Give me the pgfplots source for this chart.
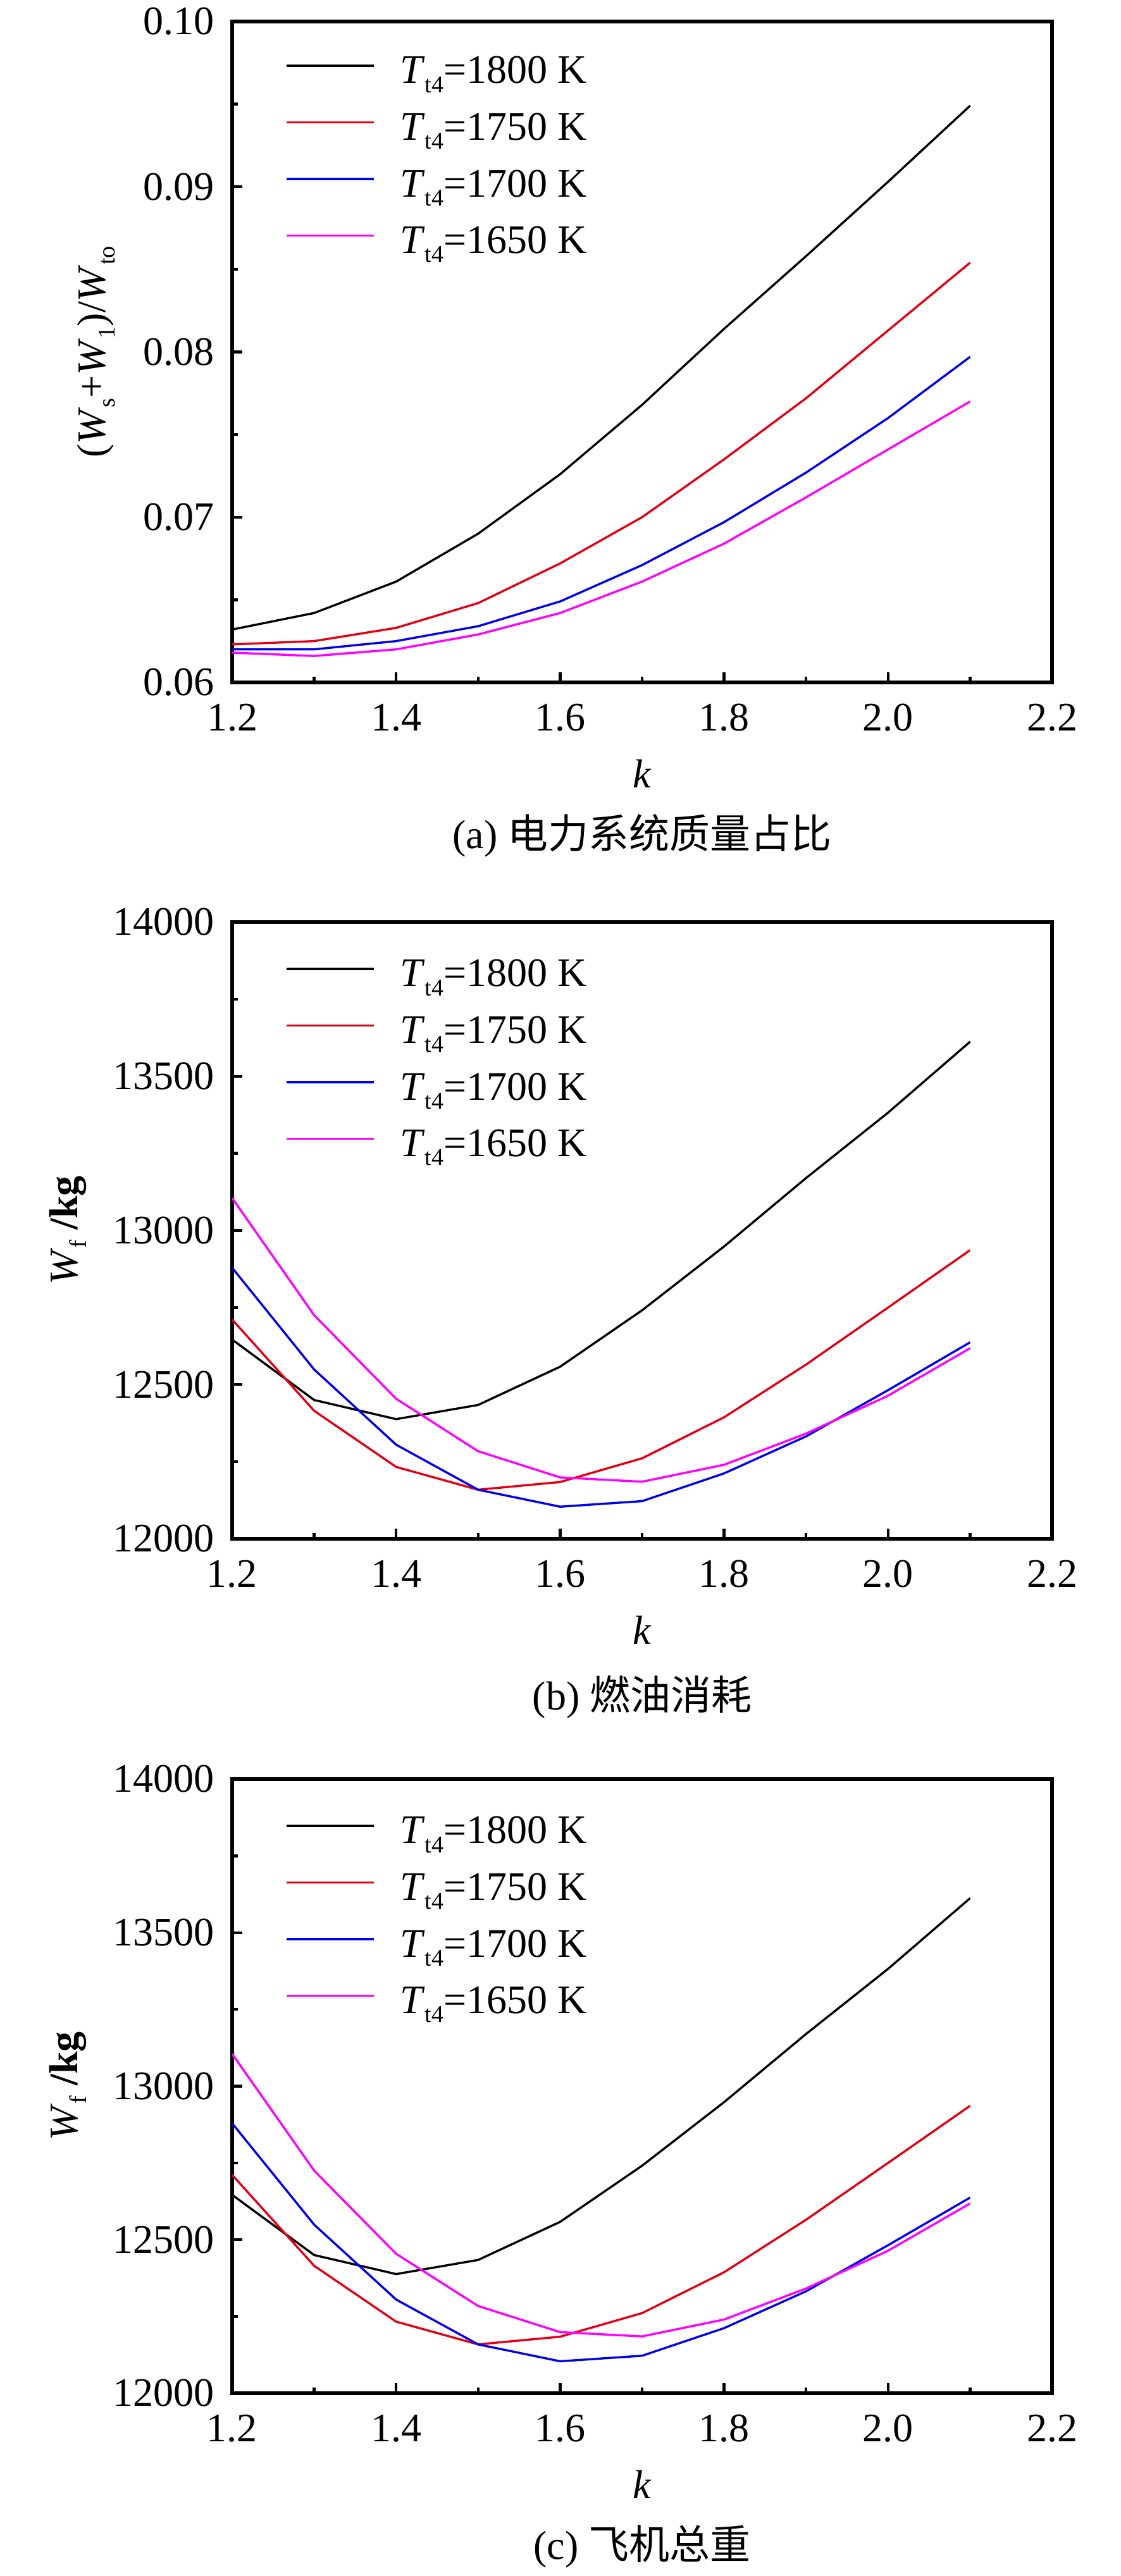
\documentclass[border=0pt]{standalone}
\usepackage{fontspec}
\setmainfont{Liberation Serif}
\newfontfamily\cjk{Noto Sans CJK SC}
\usepackage{pgfplots}
\pgfplotsset{compat=1.18}
\definecolor{myred}{RGB}{228,0,18}
\definecolor{myblue}{RGB}{0,0,235}
\definecolor{mymag}{RGB}{255,0,255}
\newcommand{\sub}[1]{\raisebox{-0.22em}{\fontsize{9.5pt}{10pt}\selectfont #1}}
\newcommand{\leg}[1]{\textit{T}\sub{t4}=#1 K}
\pgfplotsset{
  myaxis/.style={
    scale only axis, width=324pt,
    xmin=1.2, xmax=2.2, xtick={1.2,1.4,...,2.2}, minor x tick num=1,
    minor y tick num=1,
    tick align=inside, xtick pos=left, ytick pos=left,
    major tick length=4pt, minor tick length=2.3pt,
    tick style={black, line width=1.1pt},
    axis line style={line width=1.4pt},
    /pgf/number format/assume math mode=true,
    scaled ticks=false,
    tick label style={font=\fontsize{16}{19}\selectfont, inner sep=0pt},
    xticklabel style={anchor=north, yshift=-8.25pt, /pgf/number format/.cd, fixed, fixed zerofill, precision=1},
    xlabel={\textit{k}},
    xlabel style={at={(axis description cs:0.5,0)}, anchor=center, yshift=-36pt, font=\fontsize{16}{19}\selectfont, inner sep=0pt},
    ylabel style={anchor=center, font=\fontsize{16}{19}\selectfont, inner sep=0pt},
    legend cell align=left,
    legend image code/.code={\draw[##1] (0pt,0pt) -- (34.5pt,0pt);},
    legend style={at={(axis description cs:0,1)}, anchor=north west, xshift=21pt, yshift=-7.5pt,
      draw=none, fill=none, inner sep=0pt, outer sep=0pt, row sep=2.4pt, column sep=10pt,
      font=\fontsize{16}{19}\selectfont,
      nodes={inner sep=0pt, text height=17pt, text depth=3pt}},
  },
  pl/.style={line width=0.85pt},
}
\begin{document}
\begin{tikzpicture}
\path[use as bounding box] (0,0) rectangle (443pt,1018.25pt);
% ---------------- (a)
\begin{axis}[myaxis, name=a, at={(91.75pt,748.5pt)}, anchor=south west, height=261.25pt,
  ymin=0.06, ymax=0.10, ytick={0.06,0.07,0.08,0.09,0.10},
  yticklabel style={anchor=east, xshift=-7pt, /pgf/number format/.cd, fixed, fixed zerofill, precision=2},
  ylabel={(\textit{W}\sub{s}+\textit{W}\sub{1})/\textit{W}\sub{to}},
  ylabel style={at={([xshift=-53.75pt]axis description cs:0,0.5)}},
  ]
\addplot[pl, black] coordinates {(1.2,0.0632)(1.3,0.0642)(1.4,0.0661)(1.5,0.0690)(1.6,0.0726)(1.7,0.0768)(1.8,0.0814)(1.9,0.0858)(2.0,0.0903)(2.1,0.0949)};
\addplot[pl, myred] coordinates {(1.2,0.0623)(1.3,0.0625)(1.4,0.0633)(1.5,0.0648)(1.6,0.0672)(1.7,0.0700)(1.8,0.0735)(1.9,0.0772)(2.0,0.0813)(2.1,0.0854)};
\addplot[pl, myblue] coordinates {(1.2,0.0620)(1.3,0.0620)(1.4,0.0625)(1.5,0.0634)(1.6,0.0649)(1.7,0.0671)(1.8,0.0697)(1.9,0.0727)(2.0,0.0760)(2.1,0.0797)};
\addplot[pl, mymag] coordinates {(1.2,0.0618)(1.3,0.0616)(1.4,0.0620)(1.5,0.0629)(1.6,0.0642)(1.7,0.0661)(1.8,0.0684)(1.9,0.0712)(2.0,0.0741)(2.1,0.0770)};
\legend{\leg{1800},\leg{1750},\leg{1700},\leg{1650}}
\end{axis}
\node[inner sep=0pt, font=\fontsize{16}{19}\selectfont] at ([yshift=-60.5pt]a.south) {(a) {\cjk 电力系统质量占比}};
% ---------------- (b)
\begin{axis}[myaxis, name=b, at={(91.75pt,410pt)}, anchor=south west, height=243.75pt,
  ymin=12000, ymax=14000, ytick={12000,12500,13000,13500,14000},
  yticklabel style={anchor=east, xshift=-7pt, /pgf/number format/.cd, fixed, 1000 sep={}},
  ylabel={\textit{W}\sub{f}\ \textbf{/kg}},
  ylabel style={at={([xshift=-65pt]axis description cs:0,0.5)}},
  legend style={yshift=-1pt},
  ]
\addplot[pl, black] coordinates {(1.2,12646)(1.3,12450)(1.4,12388)(1.5,12434)(1.6,12558)(1.7,12741)(1.8,12948)(1.9,13170)(2.0,13382)(2.1,13612)};
\addplot[pl, myred] coordinates {(1.2,12711)(1.3,12415)(1.4,12233)(1.5,12159)(1.6,12184)(1.7,12261)(1.8,12394)(1.9,12565)(2.0,12750)(2.1,12936)};
\addplot[pl, myblue] coordinates {(1.2,12879)(1.3,12549)(1.4,12305)(1.5,12159)(1.6,12104)(1.7,12122)(1.8,12212)(1.9,12332)(2.0,12482)(2.1,12637)};
\addplot[pl, mymag] coordinates {(1.2,13105)(1.3,12725)(1.4,12454)(1.5,12284)(1.6,12199)(1.7,12185)(1.8,12240)(1.9,12341)(2.0,12464)(2.1,12618)};
\legend{\leg{1800},\leg{1750},\leg{1700},\leg{1650}}
\end{axis}
\node[inner sep=0pt, font=\fontsize{16}{19}\selectfont] at ([yshift=-62.5pt]b.south) {(b) {\cjk 燃油消耗}};
% ---------------- (c)
\begin{axis}[myaxis, name=c, at={(91.75pt,72.25pt)}, anchor=south west, height=242.75pt,
  ymin=12000, ymax=14000, ytick={12000,12500,13000,13500,14000},
  yticklabel style={anchor=east, xshift=-7pt, /pgf/number format/.cd, fixed, 1000 sep={}},
  ylabel={\textit{W}\sub{f}\ \textbf{/kg}},
  ylabel style={at={([xshift=-65pt]axis description cs:0,0.5)}},
  legend style={yshift=-1pt},
  ]
\addplot[pl, black] coordinates {(1.2,12646)(1.3,12450)(1.4,12388)(1.5,12434)(1.6,12558)(1.7,12741)(1.8,12948)(1.9,13170)(2.0,13382)(2.1,13612)};
\addplot[pl, myred] coordinates {(1.2,12711)(1.3,12415)(1.4,12233)(1.5,12159)(1.6,12184)(1.7,12261)(1.8,12394)(1.9,12565)(2.0,12750)(2.1,12936)};
\addplot[pl, myblue] coordinates {(1.2,12879)(1.3,12549)(1.4,12305)(1.5,12159)(1.6,12104)(1.7,12122)(1.8,12212)(1.9,12332)(2.0,12482)(2.1,12637)};
\addplot[pl, mymag] coordinates {(1.2,13105)(1.3,12725)(1.4,12454)(1.5,12284)(1.6,12199)(1.7,12185)(1.8,12240)(1.9,12341)(2.0,12464)(2.1,12618)};
\legend{\leg{1800},\leg{1750},\leg{1700},\leg{1650}}
\end{axis}
\node[inner sep=0pt, font=\fontsize{16}{19}\selectfont] at ([yshift=-60.5pt]c.south) {(c) {\cjk 飞机总重}};
\end{tikzpicture}
\end{document}
